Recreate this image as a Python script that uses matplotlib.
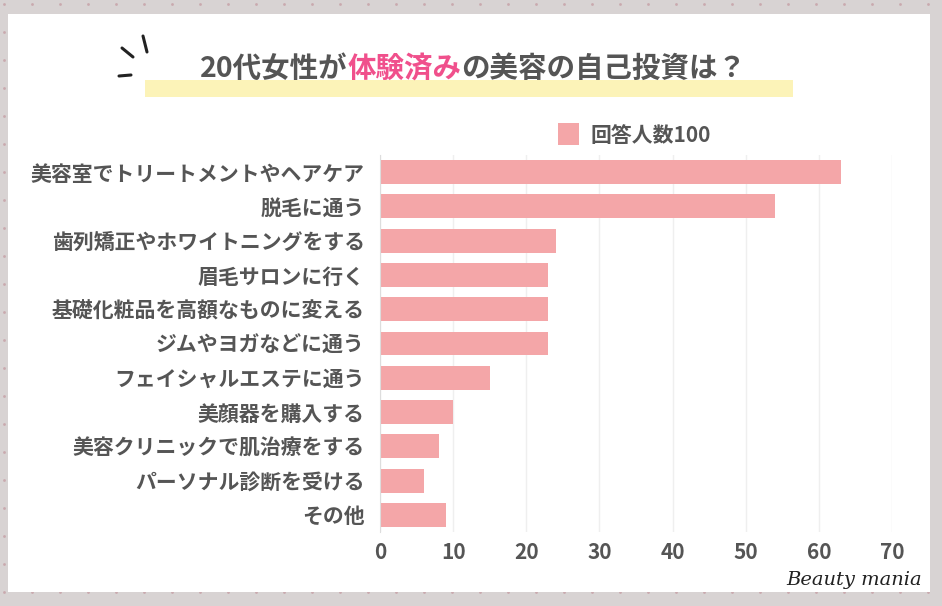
import matplotlib.pyplot as plt
import matplotlib.patches as mpatches
import numpy as np

plt.rcParams['font.family'] = ['Noto Sans CJK JP', 'DejaVu Sans']

# data
categories = ['美容室でトリートメントやヘアケア', '脱毛に通う', '歯列矯正やホワイトニングをする',
              '眉毛サロンに行く', '基礎化粧品を高額なものに変える', 'ジムやヨガなどに通う',
              'フェイシャルエステに通う', '美顔器を購入する', '美容クリニックで肌治療をする',
              'パーソナル診断を受ける', 'その他']
counts = [63, 54, 24, 23, 23, 23, 15, 10, 8, 6, 9]
xticks = [0, 10, 20, 30, 40, 50, 60, 70]
legend_label = '回答人数100'

W, H = 942, 606
bar_color = '#f4a6a8'
text_color = '#555555'

fig = plt.figure(figsize=(W / 100, H / 100), dpi=100)
fig.patch.set_facecolor('#d8d3d3')

# dotted background
gx, gy = np.meshgrid(np.arange(4, W, 28), np.arange(4, H, 28))
bg = fig.add_axes([0, 0, 1, 1], zorder=-5)
bg.set_xlim(0, W)
bg.set_ylim(H, 0)
bg.axis('off')
bg.scatter(gx.ravel(), gy.ravel(), s=4, color='#c9a9ae', linewidths=0)
bg.add_patch(mpatches.Rectangle((8, 14), 922, 578, facecolor='white', edgecolor='none'))
# yellow highlight under the title
bg.add_patch(mpatches.Rectangle((145, 80), 648, 17, facecolor='#fcf3b8', edgecolor='none'))
# little accent strokes
bg.plot([143, 147], [36, 52], color='#222222', lw=2.2, solid_capstyle='round')
bg.plot([122, 133], [48, 57], color='#222222', lw=2.2, solid_capstyle='round')
bg.plot([119, 131], [76, 75], color='#222222', lw=2.2, solid_capstyle='round')
bg.text(922, 580, 'Beauty mania', fontsize=14, fontstyle='italic', family='DejaVu Serif',
        ha='right', va='center', color='#222222')

# title with pink part
t1 = bg.text(200, 69, '20代女性が', fontsize=20.5, fontweight='bold', color=text_color,
             ha='left', va='center')
t2 = bg.annotate('体験済み', xy=(1, 0), xycoords=t1, ha='left', va='bottom',
                 fontsize=20.5, fontweight='bold', color='#f0508c')
bg.annotate('の美容の自己投資は？', xy=(1, 0), xycoords=t2, ha='left', va='bottom',
            fontsize=20.5, fontweight='bold', color=text_color)

# legend
bg.add_patch(mpatches.Rectangle((558, 123), 21, 22, facecolor=bar_color, edgecolor='none'))
bg.text(590, 135, legend_label, fontsize=15, fontweight='bold', color=text_color,
        ha='left', va='center')

# chart
ax = fig.add_axes([380 / W, 1 - 532 / H, 512 / W, 377 / H])
ax.set_facecolor('none')
y = np.arange(len(categories))
ax.barh(y, counts, height=0.7, color=bar_color, zorder=2)
ax.set_ylim(len(categories) - 0.5, -0.5)
ax.set_xlim(0, 70)
ax.set_xticks(xticks)
ax.set_yticks(y)
ax.set_yticklabels(categories)
ax.grid(axis='x', color='#efefef', lw=1, zorder=0)
for s in ['top', 'right', 'bottom']:
    ax.spines[s].set_visible(False)
ax.spines['left'].set_color('#dddddd')
ax.tick_params(length=0)
ax.tick_params(axis='y', pad=11, labelsize=15, labelcolor=text_color)
ax.tick_params(axis='x', pad=7, labelsize=15, labelcolor=text_color)
for lab in ax.get_xticklabels() + ax.get_yticklabels():
    lab.set_fontweight('bold')

fig.savefig('out.png', dpi=100, facecolor=fig.get_facecolor())
